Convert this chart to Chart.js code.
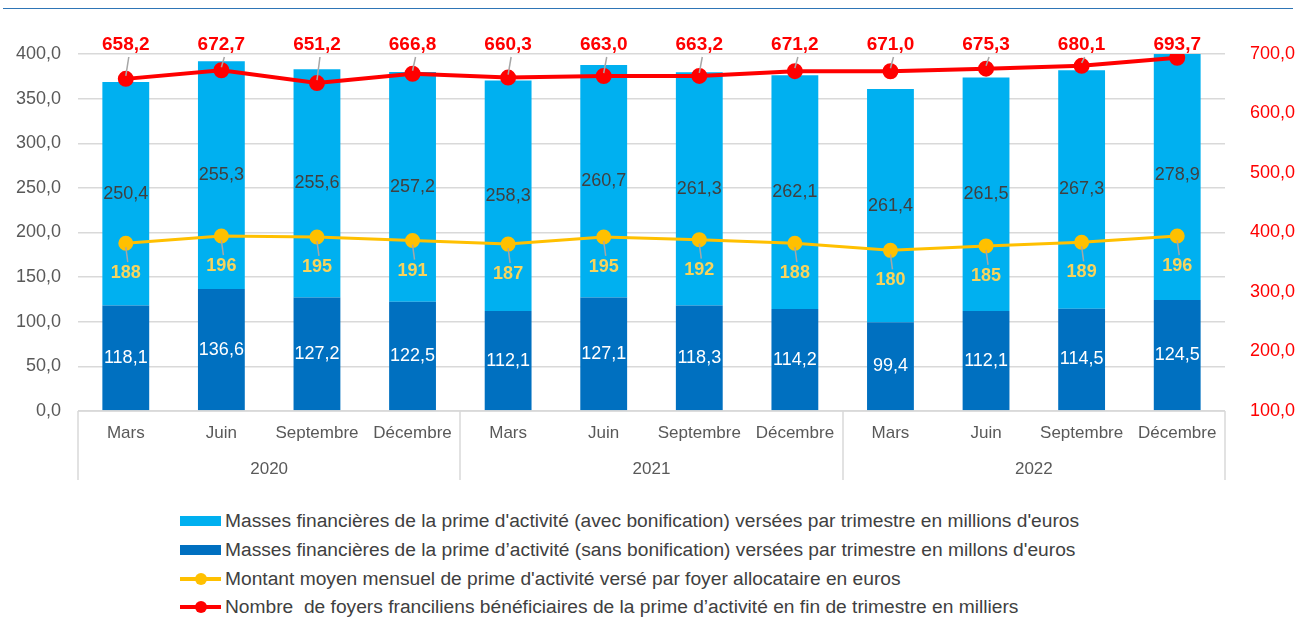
<!DOCTYPE html>
<html lang="fr">
<head>
<meta charset="utf-8">
<script src="https://cdn.jsdelivr.net/npm/chart.js@4.4.1/dist/chart.umd.min.js"></script>
<style>
  body { margin: 0; background: #fff; font-family: "Liberation Sans", Arial, sans-serif; }
  #wrap { position: relative; width: 1299px; height: 619px; overflow: hidden; }
  #topline { position: absolute; left: 3px; top: 8px; width: 1290px; border-top: 1px solid #2E75B6; }
  #chartBox { position: absolute; left: 0; top: 0; width: 1299px; height: 495px; }
  #legend { position: absolute; left: 180px; top: 507px; }
  .item { height: 28.7px; display: flex; align-items: center; font-size: 19.2px; color: #404040; white-space: pre; }
  .sym { position: relative; width: 41px; height: 12px; margin-right: 4px; flex: none; }
  .box { position: absolute; left: 0; top: 1px; width: 41px; height: 10px; }
  .ln { position: absolute; left: 0; top: 4px; width: 41px; height: 4px; }
  .dot { position: absolute; left: 15px; top: 0; width: 12px; height: 12px; border-radius: 50%; }
</style>
</head>
<body>
<div id="wrap">
  <div id="topline"></div>
  <div id="chartBox"><canvas id="myChart"></canvas></div>
  <div id="legend"></div>
</div>
<script>
// données
const mois = ['Mars', 'Juin', 'Septembre', 'Décembre', 'Mars', 'Juin', 'Septembre', 'Décembre', 'Mars', 'Juin', 'Septembre', 'Décembre'];
const annees = ['2020', '2021', '2022'];
const sansBonif = [118.1, 136.6, 127.2, 122.5, 112.1, 127.1, 118.3, 114.2, 99.4, 112.1, 114.5, 124.5];
const avecBonif = [250.4, 255.3, 255.6, 257.2, 258.3, 260.7, 261.3, 262.1, 261.4, 261.5, 267.3, 278.9];
const montantMoyen = [188, 196, 195, 191, 187, 195, 192, 188, 180, 185, 189, 196];
const nbFoyers = [658.2, 672.7, 651.2, 666.8, 660.3, 663.0, 663.2, 671.2, 671.0, 675.3, 680.1, 693.7];

const labelAvec = "Masses financières de la prime d'activité (avec bonification) versées par trimestre en millions d'euros";
const labelSans = "Masses financières de la prime d’activité (sans bonification) versées par trimestre en millons d'euros";
const labelMontant = "Montant moyen mensuel de prime d'activité versé par foyer allocataire en euros";
const labelFoyers = "Nombre  de foyers franciliens bénéficiaires de la prime d’activité en fin de trimestre en milliers";

const bleuClair = '#00B0F0', bleuFonce = '#0070C0', jaune = '#FFC000', rouge = '#FF0000';
const gris = '#595959';
const police = '"Liberation Sans", Arial, sans-serif';

function fr(v, d) {
    return v.toFixed(d).replace('.', ',');
}

// étiquettes + séparateurs de l'axe à deux niveaux
const labelsPlugin = {
    id: 'labelsPlugin',
    afterDatasetsDraw(chart) {
        const ctx = chart.ctx;
        const top = chart.chartArea.top;
        ctx.save();
        ctx.textAlign = 'center';
        ctx.textBaseline = 'middle';

        // barres
        chart.getDatasetMeta(0).data.forEach((bar, i) => {
            ctx.font = '18px ' + police;
            ctx.fillStyle = '#ffffff';
            ctx.fillText(fr(sansBonif[i], 1), bar.x, (bar.y + bar.base) / 2);
        });
        chart.getDatasetMeta(1).data.forEach((bar, i) => {
            ctx.font = '18px ' + police;
            ctx.fillStyle = '#404040';
            ctx.fillText(fr(avecBonif[i], 1), bar.x, (bar.y + bar.base) / 2);
        });

        // ligne jaune
        chart.getDatasetMeta(2).data.forEach((pt, i) => {
            const ly = pt.y + 30;
            ctx.strokeStyle = '#A6A6A6';
            ctx.lineWidth = 1.5;
            ctx.beginPath();
            ctx.moveTo(pt.x, pt.y + 4);
            ctx.lineTo(pt.x + 2, ly - 11);
            ctx.stroke();
            ctx.font = 'bold 18px ' + police;
            ctx.fillStyle = '#F8D45C';
            ctx.fillText(String(montantMoyen[i]), pt.x, ly);
        });

        // ligne rouge
        chart.getDatasetMeta(3).data.forEach((pt, i) => {
            const ly = top - 9;
            if (pt.y - ly > 20) {
                ctx.strokeStyle = '#A6A6A6';
                ctx.lineWidth = 1.5;
                ctx.beginPath();
                ctx.moveTo(pt.x + 3, ly + 12);
                ctx.lineTo(pt.x, pt.y - 3);
                ctx.stroke();
            }
            ctx.font = 'bold 19px ' + police;
            ctx.fillStyle = rouge;
            ctx.fillText(fr(nbFoyers[i], 1), pt.x, ly);
        });
        ctx.restore();
    },
    afterDraw(chart) {
        const ctx = chart.ctx;
        const x = chart.scales.x;
        const step = x.getPixelForValue(1) - x.getPixelForValue(0);
        const bottom = x.top + 69;
        const xs = [x.left, x.getPixelForValue(3) + step / 2, x.getPixelForValue(7) + step / 2, x.right];
        ctx.save();
        ctx.strokeStyle = '#D9D9D9';
        ctx.lineWidth = 1.5;
        xs.forEach(px => {
            ctx.beginPath();
            ctx.moveTo(Math.round(px), x.top);
            ctx.lineTo(Math.round(px), bottom);
            ctx.stroke();
        });
        ctx.beginPath();
        ctx.moveTo(x.left, x.top);
        ctx.lineTo(x.right, x.top);
        ctx.stroke();
        ctx.restore();
    }
};

const ctx = document.getElementById('myChart').getContext('2d');
const myChart = new Chart(ctx, {
    type: 'bar',
    data: {
        labels: mois,
        datasets: [
            {
                label: labelSans,
                data: sansBonif,
                backgroundColor: bleuFonce,
                stack: 's',
                order: 2,
                barPercentage: 0.49,
                categoryPercentage: 1,
                yAxisID: 'y',
            },
            {
                label: labelAvec,
                data: avecBonif,
                backgroundColor: bleuClair,
                stack: 's',
                order: 2,
                barPercentage: 0.49,
                categoryPercentage: 1,
                yAxisID: 'y',
            },
            {
                type: 'line',
                label: labelMontant,
                data: montantMoyen,
                borderColor: jaune,
                backgroundColor: jaune,
                borderWidth: 3,
                pointRadius: 6,
                pointBackgroundColor: jaune,
                pointBorderColor: jaune,
                fill: false,
                order: 1,
                yAxisID: 'y',
            },
            {
                type: 'line',
                label: labelFoyers,
                data: nbFoyers,
                borderColor: rouge,
                backgroundColor: rouge,
                borderWidth: 4,
                pointRadius: 6,
                pointBackgroundColor: rouge,
                pointBorderColor: rouge,
                fill: false,
                order: 0,
                yAxisID: 'y1',
            },
        ],
    },
    options: {
        responsive: true,
        maintainAspectRatio: false,
        animation: false,
        layout: { padding: { top: 54, left: 0, right: 0, bottom: 6 } },
        plugins: {
            legend: { display: false },
            tooltip: { enabled: false },
        },
        scales: {
            x: {
                stacked: true,
                grid: { display: false },
                border: { display: false },
                ticks: {
                    color: gris,
                    font: { size: 17, family: police },
                    autoSkip: false,
                    maxRotation: 0,
                    padding: 4,
                },
                afterFit: (scale) => { scale.height = 40; },
            },
            x2: {
                type: 'category',
                labels: annees,
                position: 'bottom',
                offset: true,
                grid: { display: false },
                border: { display: false },
                ticks: {
                    color: gris,
                    font: { size: 17, family: police },
                    padding: 0,
                },
                afterFit: (scale) => { scale.height = 38; },
            },
            y: {
                stacked: true,
                min: 0,
                max: 400,
                position: 'left',
                ticks: {
                    stepSize: 50,
                    color: gris,
                    font: { size: 18, family: police },
                    padding: 17,
                    callback: (v) => fr(v, 1),
                },
                grid: { color: '#D9D9D9', lineWidth: 1.5, drawTicks: false },
                border: { display: false },
                afterFit: (scale) => { scale.width = 78; },
            },
            y1: {
                min: 100,
                max: 700,
                position: 'right',
                ticks: {
                    stepSize: 100,
                    color: rouge,
                    font: { size: 18, family: police },
                    padding: 25,
                    callback: (v) => fr(v, 1),
                },
                grid: { drawOnChartArea: false, drawTicks: false },
                border: { display: false },
                afterFit: (scale) => { scale.width = 74; },
            },
        },
    },
    plugins: [labelsPlugin],
});

// légende
const legendItems = [
    { label: labelAvec, color: bleuClair, kind: 'box' },
    { label: labelSans, color: bleuFonce, kind: 'box' },
    { label: labelMontant, color: jaune, kind: 'line' },
    { label: labelFoyers, color: rouge, kind: 'line' },
];
const legendEl = document.getElementById('legend');
legendItems.forEach(item => {
    const row = document.createElement('div');
    row.className = 'item';
    const sym = document.createElement('span');
    sym.className = 'sym';
    if (item.kind === 'box') {
        sym.innerHTML = '<span class="box" style="background:' + item.color + '"></span>';
    } else {
        sym.innerHTML = '<span class="ln" style="background:' + item.color + '"></span><span class="dot" style="background:' + item.color + '"></span>';
    }
    const txt = document.createElement('span');
    txt.textContent = item.label;
    row.appendChild(sym);
    row.appendChild(txt);
    legendEl.appendChild(row);
});
</script>
</body>
</html>
